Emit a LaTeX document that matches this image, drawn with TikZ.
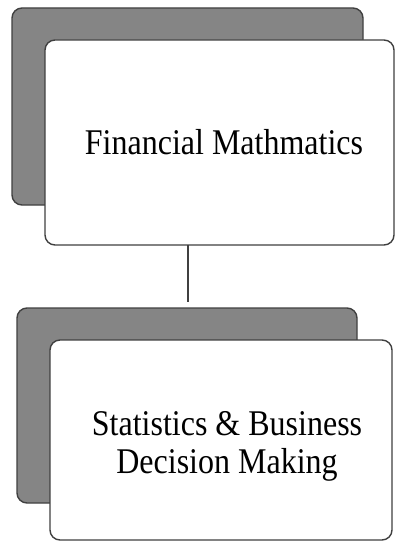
\documentclass[tikz,border=0pt]{standalone}
\usepackage{fontspec}
\setmainfont{Liberation Serif}
\begin{document}
\begin{tikzpicture}[x=1pt,y=-1pt,
  backbox/.style={draw=black!75,line width=1.4pt,fill=black!48,rounded corners=10pt},
  frontbox/.style={draw=black!75,line width=1.4pt,fill=white,rounded corners=10pt},
  lbl/.style={inner sep=0pt,font=\fontsize{32}{34}\selectfont}]
\useasboundingbox (0,0) rectangle (395,545);
\draw[backbox] (12,8) rectangle (363,205);
\draw[frontbox] (45,40) rectangle (394,245);
\node[lbl] (fm) at (224,142) {\scalebox{1}[1.13]{Financial Mathmatics}};
\coordinate (t1) at (188,245);
\draw[backbox] (17,308) rectangle (357,503);
\draw[frontbox] (50,340) rectangle (392,540);
\coordinate (t2) at (188,302);
\node[lbl] (sb) at (227,447) {\scalebox{1}[1.13]{\begin{tabular}{@{}c@{}}Statistics \& Business\\Decision Making\end{tabular}}};
\draw[black!75,line width=1.6pt] (t1) -- (t2);
\end{tikzpicture}
\end{document}
